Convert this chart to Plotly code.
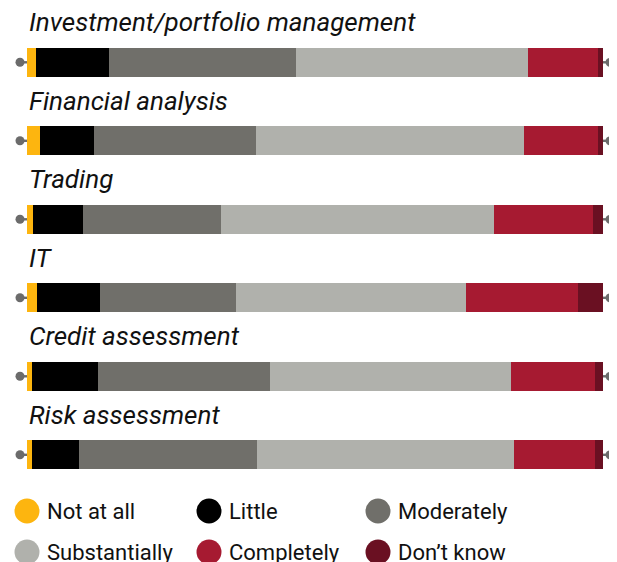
import plotly.graph_objects as go

# survey answers, share of respondents (%)
tasks = ['Investment/portfolio management', 'Financial analysis', 'Trading', 'IT',
         'Credit assessment', 'Risk assessment']
answers = ['Not at all', 'Little', 'Moderately', 'Substantially', 'Completely', "Don’t know"]

not_at_all = [1.5, 2.3, 1.0, 1.7, 0.8, 0.8]
little = [12.7, 9.4, 8.7, 10.9, 11.5, 8.2]
moderately = [32.5, 28.0, 24.0, 23.7, 29.9, 30.9]
substantially = [40.3, 46.6, 47.4, 39.9, 41.8, 44.6]
completely = [12.2, 12.9, 17.2, 19.5, 14.6, 14.1]
dont_know = [0.8, 0.8, 1.7, 4.3, 1.4, 1.4]

colors = ['#FDB50F', '#000000', '#706F6A', '#B0B1AC', '#A61A31', '#6A1022']
series = [not_at_all, little, moderately, substantially, completely, dont_know]

# page body has an 8px margin, so the figure is 8px smaller than the window
W, H = 609, 554
PX_PER_ROW = 78.5
X_RANGE = [-3.299, 102.43]
top = -54.3 / PX_PER_ROW
Y_RANGE = [top + H / PX_PER_ROW, top]


def to_paper_x(v):
    return (v - X_RANGE[0]) / (X_RANGE[1] - X_RANGE[0])


def to_paper_y(v):
    return (Y_RANGE[0] - v) / (Y_RANGE[0] - Y_RANGE[1])


rows = list(range(len(tasks)))
fig = go.Figure()
for name, vals, col in zip(answers, series, colors):
    fig.add_trace(go.Bar(y=rows, x=vals, orientation='h', name=name,
                         marker=dict(color=col, line=dict(width=0)),
                         width=0.366, showlegend=False))

shapes = []
annotations = []
for r, task in zip(rows, tasks):
    # italic row title above each bar
    annotations.append(dict(x=0, y=r, xref='x', yref='y', text=task, showarrow=False,
                            xanchor='left', yanchor='middle', xshift=0, yshift=40,
                            font=dict(family='Roboto', size=26, style='italic', color='#111111')))
    # grey end caps: small line + dot at both ends (paper refs so they are not clipped)
    for anchor, sign in ((0, -1), (100, 1)):
        ax = to_paper_x(anchor)
        ay = to_paper_y(r)
        shapes.append(dict(type='rect', xref='paper', yref='paper', xsizemode='pixel', ysizemode='pixel',
                           xanchor=ax, yanchor=ay, x0=0, x1=sign * 6, y0=-1.2, y1=1.2,
                           fillcolor='#6B6B6B', line=dict(width=0), layer='below'))
        shapes.append(dict(type='circle', xref='paper', yref='paper', xsizemode='pixel', ysizemode='pixel',
                           xanchor=ax, yanchor=ay,
                           x0=sign * 7 - 4.5, x1=sign * 7 + 4.5, y0=-4.5, y1=4.5,
                           fillcolor='#6B6B6B', line=dict(width=0)))

# hand-made legend: big circles + labels, three per row
legend_x = [19, 201, 370]
legend_y = [503, 544]
for i, (name, col) in enumerate(zip(answers, colors)):
    px_ = legend_x[i % 3] / W
    py_ = 1 - legend_y[i // 3] / H
    shapes.append(dict(type='circle', xref='paper', yref='paper', xsizemode='pixel', ysizemode='pixel',
                       xanchor=px_, yanchor=py_, x0=-12.5, x1=12.5, y0=-12.5, y1=12.5,
                       fillcolor=col, line=dict(width=0)))
    annotations.append(dict(x=px_, y=py_, xref='paper', yref='paper',
                            text=name, showarrow=False, xanchor='left', yanchor='middle', xshift=18,
                            font=dict(family='Roboto', size=22, color='#111111')))

fig.update_layout(
    width=W, height=H,
    margin=dict(l=0, r=0, t=0, b=0),
    barmode='stack', bargap=0,
    plot_bgcolor='white', paper_bgcolor='white',
    xaxis=dict(range=X_RANGE, visible=False, fixedrange=True),
    yaxis=dict(range=Y_RANGE, visible=False, fixedrange=True),
    shapes=shapes, annotations=annotations,
)

fig.write_html("out.html")
